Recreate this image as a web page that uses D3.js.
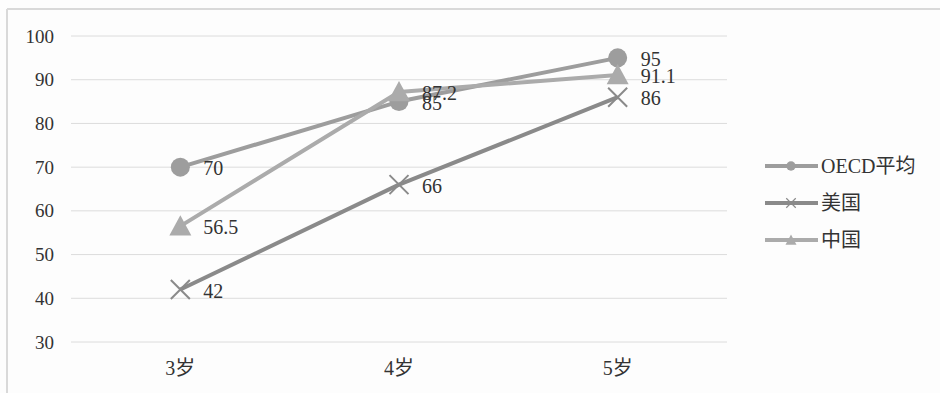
<!DOCTYPE html>
<html>
<head>
<meta charset="utf-8">
<script src="https://cdn.jsdelivr.net/npm/d3@7"></script>
<style>
  html, body { margin: 0; padding: 0; background: #fff; }
  svg { display: block; }
  text { font-family: "Liberation Serif", "Noto Sans CJK SC", serif; fill: #333; }
</style>
</head>
<body>
<svg id="chart" width="940" height="393"></svg>
<script>
// Age groups on the x axis
const categories = ["3岁", "4岁", "5岁"];
// Enrolment rates (%) per series
const oecdValues = [70, 85, 95];
const usValues = [42, 66, 86];
const chinaValues = [56.5, 87.2, 91.1];
const seriesNames = ["OECD平均", "美国", "中国"];
const yTicks = [30, 40, 50, 60, 70, 80, 90, 100];

const series = [
  { name: seriesNames[0], values: oecdValues, color: "#9d9d9d", marker: "circle" },
  { name: seriesNames[1], values: usValues, color: "#8a8a8a", marker: "cross" },
  { name: seriesNames[2], values: chinaValues, color: "#ababab", marker: "triangle" }
];

const svg = d3.select("#chart");
const W = 940, H = 393;

// chart area frame
svg.append("rect").attr("x", 0).attr("y", 0).attr("width", W).attr("height", H).attr("fill", "#fdfdfd");
svg.append("line").attr("x1", 7).attr("x2", W).attr("y1", 9).attr("y2", 9)
  .attr("stroke", "#d9d9d9").attr("stroke-width", 2);
svg.append("line").attr("x1", 7).attr("x2", 7).attr("y1", 9).attr("y2", H)
  .attr("stroke", "#d9d9d9").attr("stroke-width", 2);

const plot = { left: 71, right: 727, top: 36, bottom: 342 };

const x = d3.scaleBand().domain(categories).range([plot.left, plot.right]);
const y = d3.scaleLinear().domain([30, 100]).range([plot.bottom, plot.top]);
const cx = c => x(c) + x.bandwidth() / 2;

// horizontal gridlines
svg.append("g").selectAll("line").data(yTicks).join("line")
  .attr("x1", plot.left).attr("x2", plot.right)
  .attr("y1", d => y(d)).attr("y2", d => y(d))
  .attr("stroke", "#dcdcdc").attr("stroke-width", 1);

// y axis labels
const yAxis = d3.axisLeft(y).tickValues(yTicks).tickSize(0).tickPadding(0);
svg.append("g").attr("transform", `translate(${plot.left - 17},0)`).call(yAxis)
  .call(g => g.select(".domain").remove())
  .call(g => g.selectAll("text").attr("font-size", 19).attr("fill", "#4a4a4a")
    .style("font-family", "'Liberation Serif', serif"));

// x axis labels
const xAxis = d3.axisBottom(x).tickSize(0).tickPadding(0);
svg.append("g").attr("transform", `translate(0,${plot.bottom + 19})`).call(xAxis)
  .call(g => g.select(".domain").remove())
  .call(g => g.selectAll("text").attr("font-size", 20).attr("fill", "#4a4a4a")
    .style("font-family", "'Liberation Serif', 'Noto Sans CJK SC', serif"));

const line = d3.line().x((d, i) => cx(categories[i])).y(d => y(d));

function drawMarker(g, type, color, px, py, scale) {
  const s = scale || 1;
  if (type === "circle") {
    g.append("circle").attr("cx", px).attr("cy", py).attr("r", 9.5 * s).attr("fill", color);
  } else if (type === "triangle") {
    const r = 11 * s;
    g.append("path")
      .attr("d", `M${px},${py - r}L${px + r},${py + r * 0.85}L${px - r},${py + r * 0.85}Z`)
      .attr("fill", color);
  } else {
    const r = 9.5 * s;
    g.append("path")
      .attr("d", `M${px - r},${py - r}L${px + r},${py + r}M${px - r},${py + r}L${px + r},${py - r}`)
      .attr("stroke", color).attr("stroke-width", 2 * Math.max(s, 0.6)).attr("fill", "none");
  }
}

const gSeries = svg.append("g");
series.forEach(s => {
  const g = gSeries.append("g");
  g.append("path").datum(s.values).attr("d", line)
    .attr("fill", "none").attr("stroke", s.color).attr("stroke-width", 4)
    .attr("stroke-linejoin", "round");
  s.values.forEach((v, i) => drawMarker(g, s.marker, s.color, cx(categories[i]), y(v), 1));
});

// data labels, right of each point
const gLabels = svg.append("g");
series.forEach(s => {
  s.values.forEach((v, i) => {
    gLabels.append("text")
      .attr("x", cx(categories[i]) + 23)
      .attr("y", y(v) + 1)
      .attr("dy", "0.35em")
      .attr("font-size", 20)
      .attr("fill", "#222")
      .text(v);
  });
});

// legend
const legend = svg.append("g");
series.forEach((s, i) => {
  const ly = 166 + i * 37;
  legend.append("line").attr("x1", 765).attr("x2", 818).attr("y1", ly).attr("y2", ly)
    .attr("stroke", s.color).attr("stroke-width", 4);
  drawMarker(legend, s.marker, s.color, 791, ly, 0.5);
  legend.append("text").attr("x", 821).attr("y", ly).attr("dy", "0.35em")
    .attr("font-size", 20).attr("fill", "#333").text(s.name);
});
</script>
</body>
</html>
